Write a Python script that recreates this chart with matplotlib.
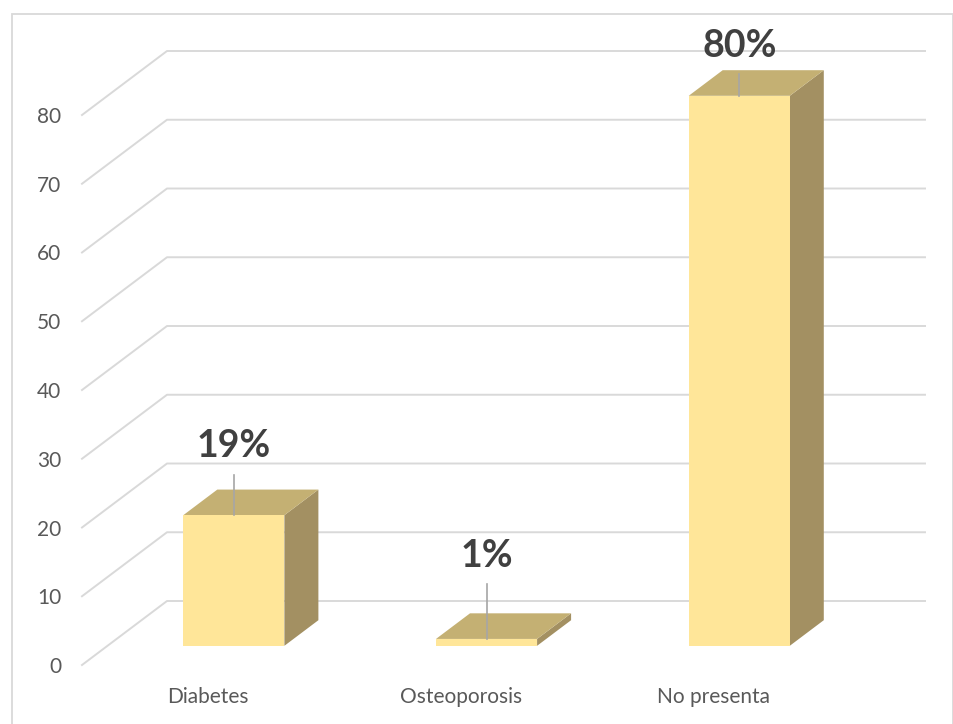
import matplotlib.pyplot as plt
from matplotlib.patches import Polygon, Rectangle

categorias = ['Diabetes', 'Osteoporosis', 'No presenta']
porcentajes = [19, 1, 80]
etiquetas = ['19%', '1%', '80%']
marcas_y = [0, 10, 20, 30, 40, 50, 60, 70, 80]

# colores de las caras de cada columna
color_frente = '#FFE699'
color_techo = '#C4B073'
color_lado = '#A39062'
color_rejilla = '#D9D9D9'

plt.rcParams['font.family'] = ['Lato', 'DejaVu Sans']

W, H = 954, 724
fig = plt.figure(figsize=(W / 100, H / 100), dpi=100)
fig.patch.set_facecolor('white')

# marco del gráfico
fig.add_artist(Rectangle((12 / W, -0.02), (953 - 12) / W, (H - 14) / H + 0.02,
                         transform=fig.transFigure, fill=False,
                         edgecolor=color_rejilla, linewidth=1.3))

# área de trazado en píxeles
x0_px, x1_px, y0_px, y1_px = 82, 925, 665, 30
ax = fig.add_axes([x0_px / W, 1 - y0_px / H, (x1_px - x0_px) / W, (y0_px - y1_px) / H])
px_cat = 252.7
px_val = 6.875
x_max = -0.5 + (x1_px - x0_px) / px_cat
ax.set_xlim(-0.5, x_max)
ax.set_ylim(0, (y0_px - y1_px) / px_val)
ax.set_facecolor('none')

# desplazamiento de la perspectiva (pared del fondo)
prof_x = 85 / px_cat
prof_y = 64 / px_val

# líneas de la pared lateral y del fondo
for v in marcas_y:
    ax.plot([-0.5, -0.5 + prof_x, x_max], [v, v + prof_y, v + prof_y],
            color=color_rejilla, linewidth=1.4, zorder=1, clip_on=False)

# columnas 3D: frente, techo y lado
ancho = 0.4
f0, f1 = 0.3, 0.7
desp_etiqueta = [10.0, 12.1, 7.3]
for i, v in enumerate(porcentajes):
    xl = i - ancho / 2
    xr = i + ancho / 2
    ax0, ay0 = f0 * prof_x, f0 * prof_y
    ax1, ay1 = f1 * prof_x, f1 * prof_y
    frente = [(xl + ax0, ay0), (xr + ax0, ay0), (xr + ax0, v + ay0), (xl + ax0, v + ay0)]
    techo = [(xl + ax0, v + ay0), (xr + ax0, v + ay0), (xr + ax1, v + ay1), (xl + ax1, v + ay1)]
    lado = [(xr + ax0, ay0), (xr + ax1, ay1), (xr + ax1, v + ay1), (xr + ax0, v + ay0)]
    for caras, color in ((lado, color_lado), (techo, color_techo), (frente, color_frente)):
        ax.add_patch(Polygon(caras, closed=True, facecolor=color, edgecolor='none', zorder=2))

    # etiqueta de valor con línea guía
    xc = i + ax0
    ytop = v + ay0
    ylab = ytop + desp_etiqueta[i]
    ax.plot([xc, xc], [ytop, ylab - 4.15], color='#A6A6A6', linewidth=1.2, zorder=3)
    ax.text(xc, ylab, etiquetas[i], ha='center', va='center', fontsize=27,
            fontweight='bold', color='#404040', zorder=4)

ax.set_yticks(marcas_y)
ax.set_xticks(range(len(categorias)))
ax.set_xticklabels(categorias)
ax.tick_params(axis='both', length=0, labelsize=15, labelcolor='#595959')
ax.tick_params(axis='y', pad=15)
ax.tick_params(axis='x', pad=16)
for s in ax.spines.values():
    s.set_visible(False)

fig.savefig('out.png', dpi=100, facecolor='white')
